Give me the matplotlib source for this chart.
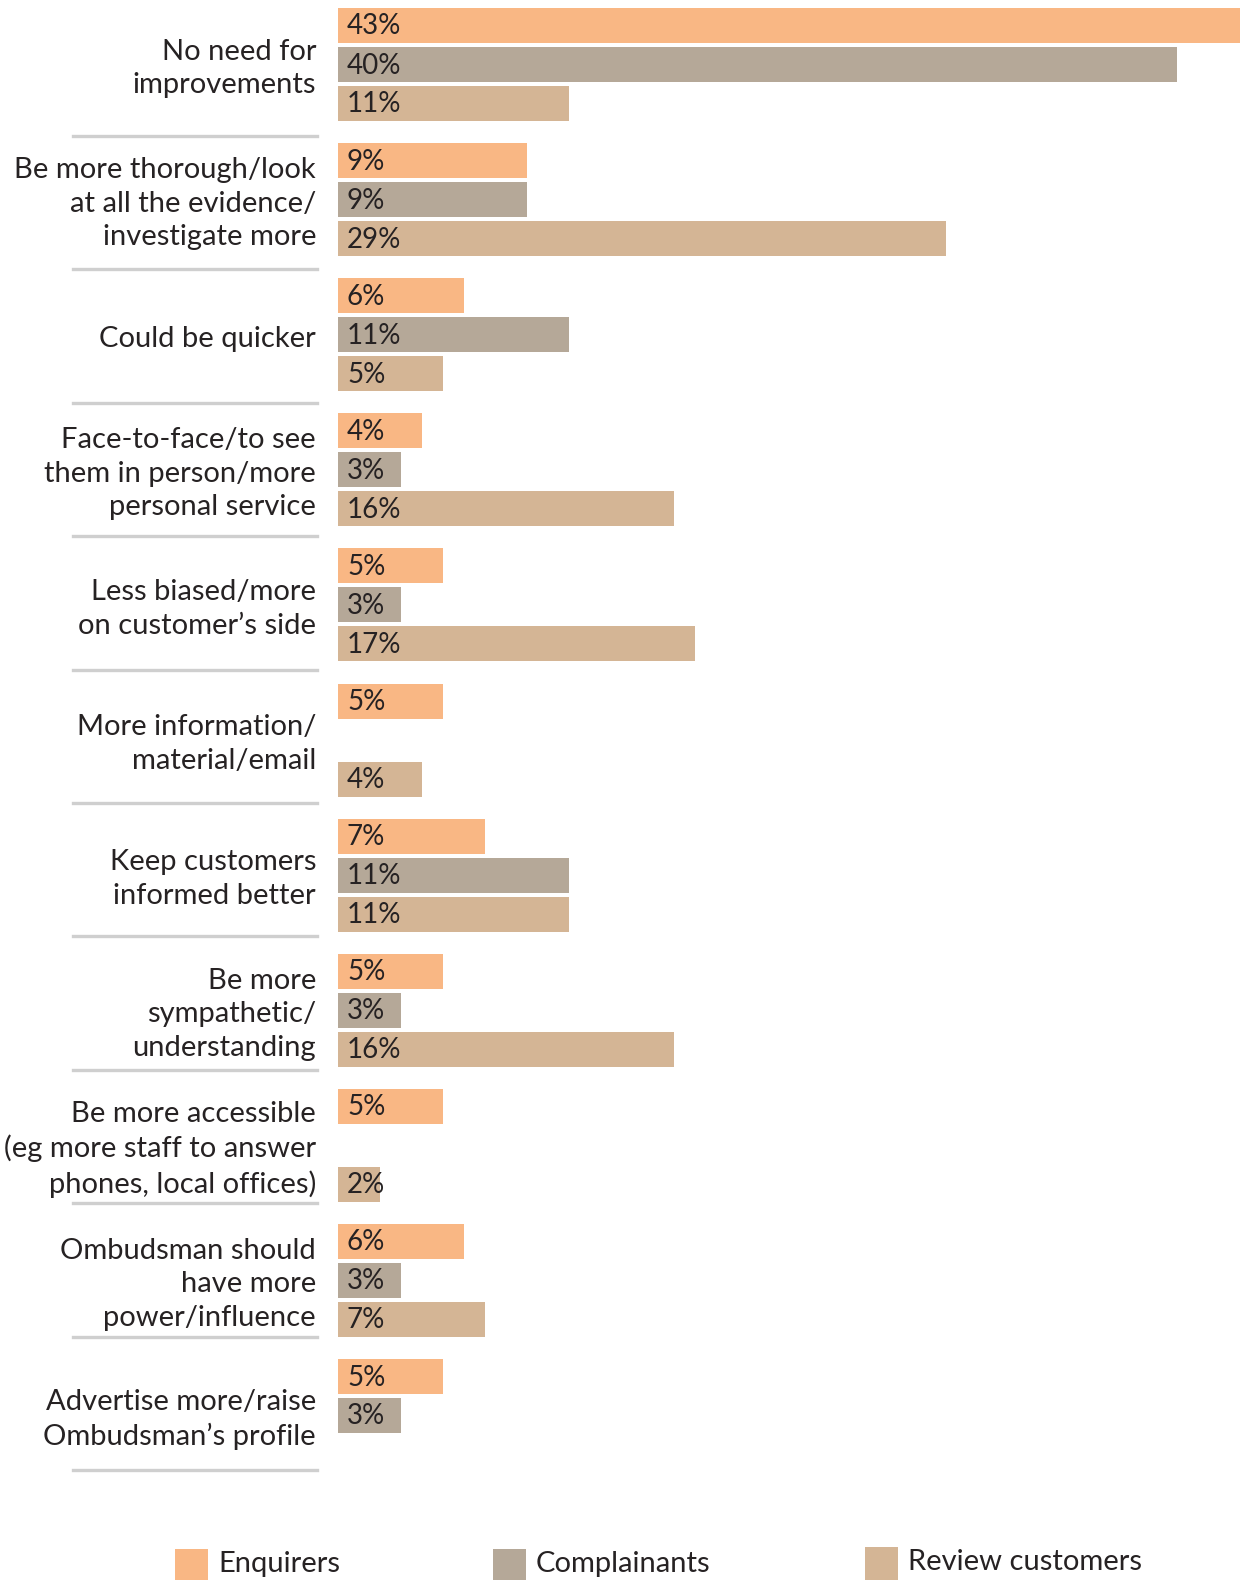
import matplotlib
matplotlib.use("Agg")
import matplotlib.pyplot as plt
import matplotlib.transforms as mtransforms
from matplotlib.patches import Rectangle
from matplotlib.lines import Line2D

categories = [
    "No need for\nimprovements",
    "Be more thorough/look\nat all the evidence/\ninvestigate more",
    "Could be quicker",
    "Face-to-face/to see\nthem in person/more\npersonal service",
    "Less biased/more\non customer\u2019s side",
    "More information/\nmaterial/email",
    "Keep customers\ninformed better",
    "Be more\nsympathetic/\nunderstanding",
    "Be more accessible\n(eg more staff to answer\nphones, local offices)",
    "Ombudsman should\nhave more\npower/influence",
    "Advertise more/raise\nOmbudsman\u2019s profile",
]
enquirers = [43, 9, 6, 4, 5, 5, 7, 5, 5, 6, 5]
complainants = [40, 9, 11, 3, 3, None, 11, 3, None, 3, 3]
review_customers = [11, 29, 5, 16, 17, 4, 11, 16, 2, 7, None]

series_names = ["Enquirers", "Complainants", "Review customers"]
series_values = [enquirers, complainants, review_customers]
series_colors = ["#F9B784", "#B5A898", "#D4B595"]

TEXT = "#262223"
FONT = "Lato"

W, H = 1250, 1580
fig = plt.figure(figsize=(W / 100, H / 100), dpi=100)
ax = fig.add_axes([0, 0, 1, 1])

# x in percent, y in pixel rows (top = 0)
x0_px, px_per_pct = 338, 902 / 43
ax.set_xlim(-x0_px / px_per_pct, (W - x0_px) / px_per_pct)
ax.set_ylim(H, 0)
ax.axis("off")

fig_x = mtransforms.blended_transform_factory(fig.transFigure, ax.transData)

group_pitch, bar_pitch, bar_h = 135.1, 39.0, 35.0
label_pad = 9 / px_per_pct

for gi, cat in enumerate(categories):
    top = 8 + gi * group_pitch
    for si, (vals, col) in enumerate(zip(series_values, series_colors)):
        v = vals[gi]
        if v is None:
            continue
        yc = top + bar_h / 2 + si * bar_pitch
        ax.barh(yc, v, height=bar_h, left=0, color=col, edgecolor="none")
        ax.text(label_pad, yc + 1, f"{v}%", ha="left", va="center",
                fontsize=20, color=TEXT, family=FONT)
    gc = top + bar_h / 2 + bar_pitch
    ax.text(316 / W, gc + 4, cat, transform=fig_x,
            ha="right", va="center", fontsize=21, color=TEXT, family=FONT,
            linespacing=1.36)

# separator rules beneath each group label
for i in range(len(categories)):
    y = 136 + i * 133.4
    ax.add_line(Line2D([73 / W, 317 / W], [y, y], color="#CFCFCF", lw=2.4,
                       transform=fig_x))

# legend along the bottom
legend_items = [(175, 1564), (493, 1564), (865, 1562)]
for (lx, ly), name, col in zip(legend_items, series_names, series_colors):
    fig.patches.append(Rectangle((lx / W, 1 - (ly + 18) / H), 33 / W, 33 / H,
                                 transform=fig.transFigure, color=col, lw=0))
    fig.text((lx + 43) / W, 1 - ly / H, name, ha="left", va="center",
             fontsize=21, color=TEXT, family=FONT)

fig.savefig("out.png", dpi=100, facecolor="white")
